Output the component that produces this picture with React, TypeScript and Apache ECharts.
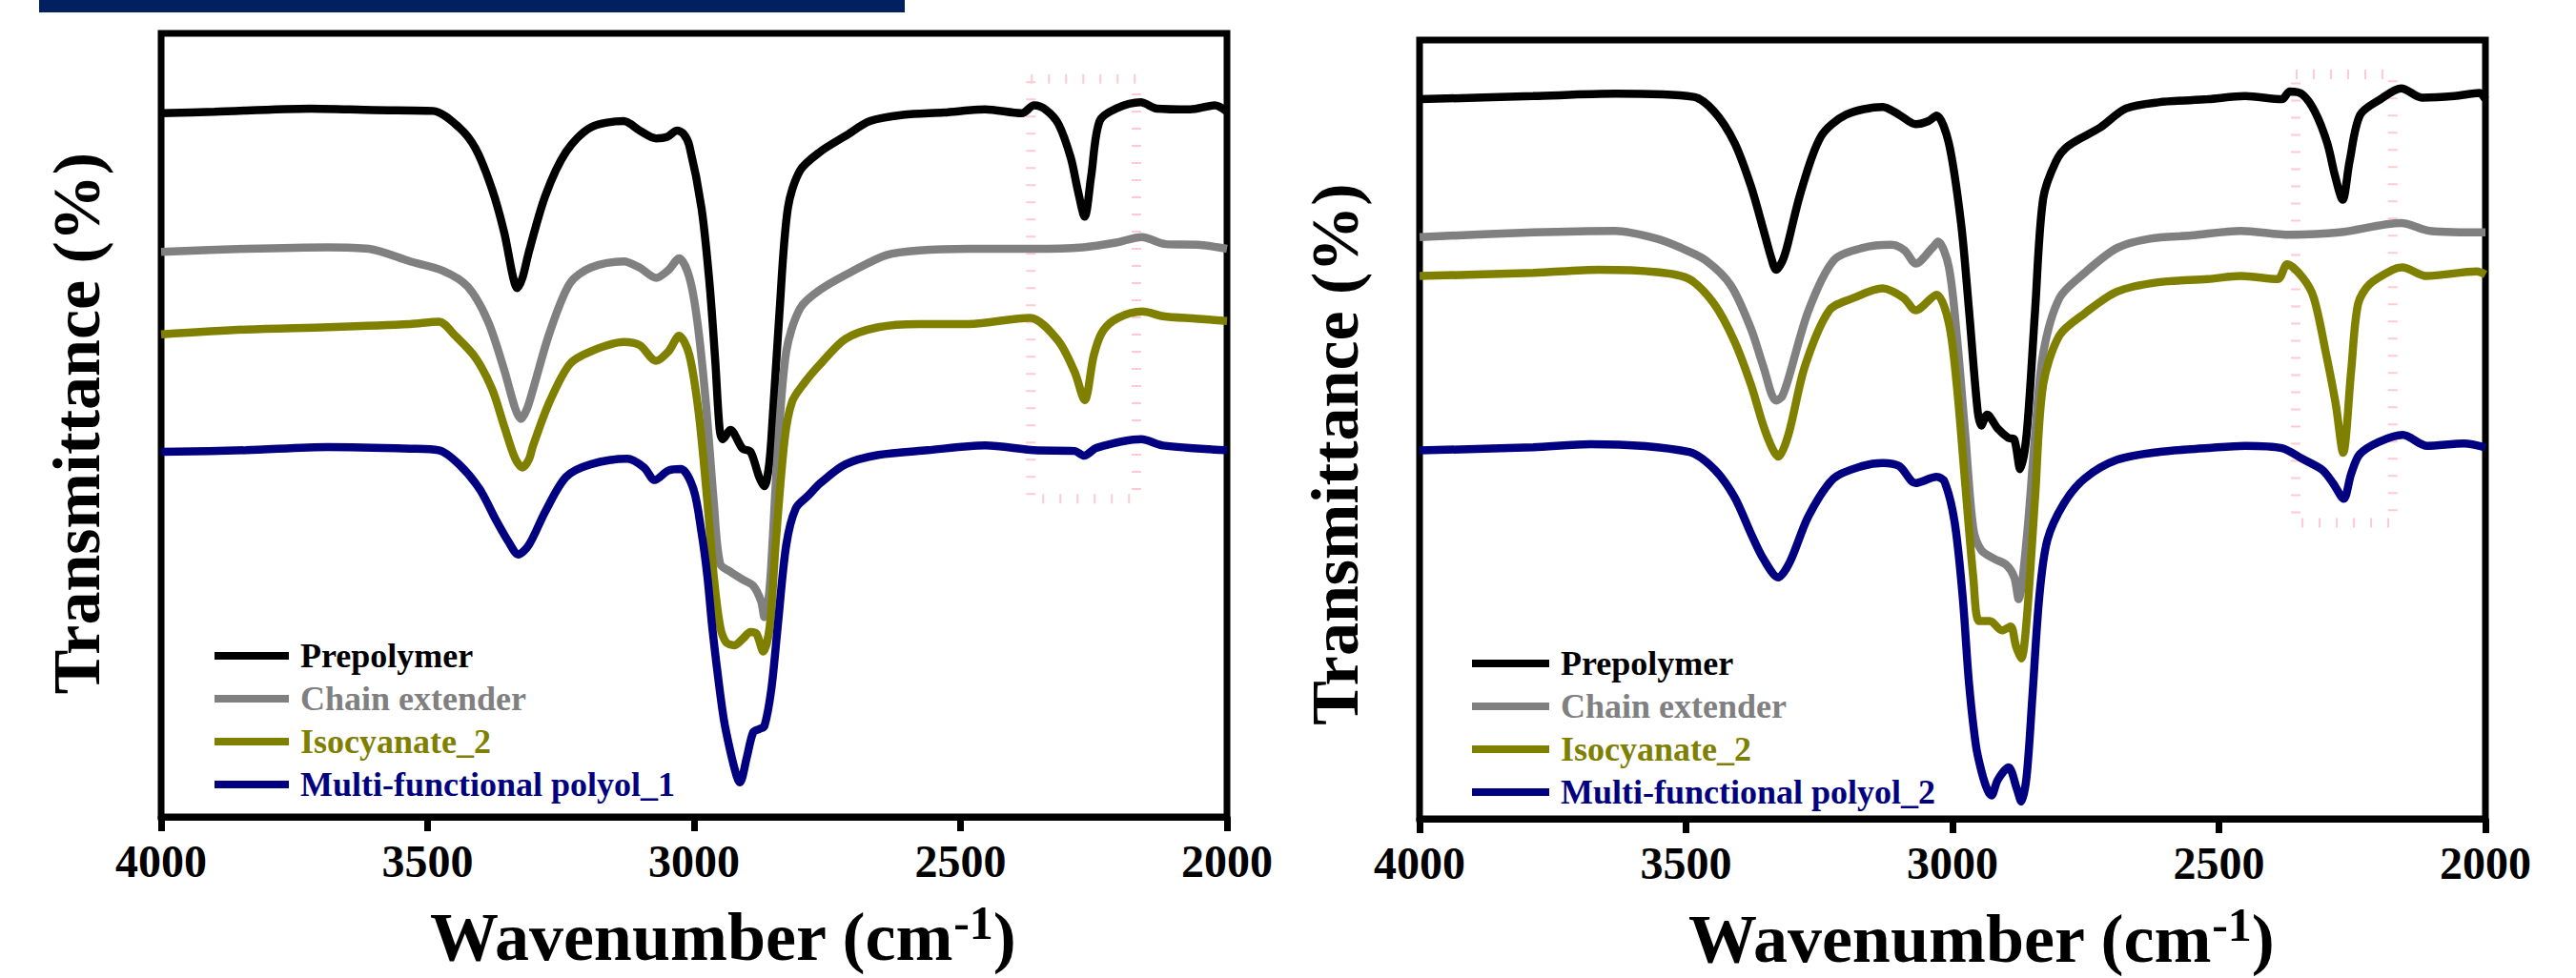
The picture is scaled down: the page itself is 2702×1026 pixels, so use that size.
import React, { useEffect, useRef } from "react";
import * as echarts from "echarts";

// ---------- Data (wavenumber cm-1, relative transmittance 0..100) ----------
const xTickMin = 2000;
const xTickMax = 4000;
const xTickStep = 500;

const names1 = ["Prepolymer", "Chain extender", "Isocyanate_2", "Multi-functional polyol_1"];
const names2 = ["Prepolymer", "Chain extender", "Isocyanate_2", "Multi-functional polyol_2"];
const colors = ["#000000", "#808080", "#808000", "#000080"];

const L_pre = [
  [4000, 89.8], [3900, 90.0], [3720, 90.4], [3600, 90.2], [3490, 90.1], [3441, 88.0], [3410, 85.3],
  [3379, 80.1], [3356, 74.5], [3340, 69.0], [3332, 67.5], [3322, 68.8], [3310, 72.1], [3279, 79.3],
  [3240, 84.9], [3194, 88.0], [3132, 88.8], [3102, 87.6], [3071, 86.6], [3050, 86.8], [3032, 87.6],
  [3020, 87.2], [3009, 85.7], [2986, 77.7], [2971, 68.1], [2960, 58.0], [2952, 49.5], [2946, 48.2],
  [2932, 49.4], [2909, 47.0], [2894, 46.6], [2878, 43.4], [2868, 42.2], [2860, 44.5], [2855, 48.2],
  [2840, 64.1], [2824, 77.7], [2801, 82.5], [2763, 84.9], [2716, 86.9], [2670, 88.8], [2608, 89.6],
  [2531, 89.9], [2454, 90.3], [2385, 89.8], [2362, 90.8], [2339, 90.2], [2316, 88.4], [2293, 84.1],
  [2280, 80.0], [2267, 76.6], [2255, 81.7], [2239, 88.8], [2208, 90.4], [2162, 91.2], [2131, 90.4],
  [2069, 90.3], [2023, 90.8], [2000, 90.0],
];
const L_ce = [
  [4000, 72.1], [3841, 72.5], [3687, 72.7], [3610, 72.5], [3533, 70.9], [3471, 69.7], [3425, 67.7],
  [3387, 63.3], [3356, 57.0], [3336, 52.2], [3325, 50.8], [3314, 52.0], [3302, 54.6], [3271, 61.8],
  [3233, 68.1], [3194, 70.1], [3132, 70.9], [3102, 70.1], [3071, 68.8], [3048, 69.8], [3028, 71.3],
  [3009, 68.9], [2994, 63.3], [2978, 53.0], [2963, 40.2], [2951, 32.3], [2932, 31.3], [2909, 30.3],
  [2889, 29.5], [2874, 27.5], [2868, 25.5], [2860, 28.0], [2855, 32.3], [2843, 46.6], [2827, 59.4],
  [2801, 64.9], [2763, 67.3], [2701, 69.7], [2639, 71.7], [2578, 72.3], [2485, 72.5], [2362, 72.5],
  [2270, 72.7], [2208, 73.3], [2160, 74.0], [2115, 73.1], [2050, 73.0], [2000, 72.5],
];
const L_iso = [
  [4000, 61.6], [3841, 62.2], [3687, 62.5], [3533, 62.9], [3479, 63.2], [3448, 61.4], [3410, 58.6],
  [3379, 54.6], [3356, 49.8], [3336, 45.8], [3322, 44.6], [3310, 45.6], [3302, 47.4], [3271, 53.0],
  [3233, 57.8], [3194, 59.4], [3132, 60.6], [3102, 60.2], [3071, 58.2], [3048, 59.4], [3028, 61.4],
  [3009, 59.0], [2991, 51.4], [2975, 40.2], [2963, 30.7], [2951, 24.3], [2940, 22.3], [2925, 21.9],
  [2909, 22.7], [2894, 23.6], [2883, 23.4], [2870, 21.1], [2858, 24.3], [2847, 34.7], [2830, 48.2],
  [2816, 53.0], [2793, 55.4], [2763, 57.8], [2716, 61.0], [2654, 62.5], [2578, 62.9], [2485, 62.9],
  [2370, 63.7], [2317, 60.8], [2286, 56.8], [2267, 53.2], [2250, 58.9], [2233, 62.0], [2204, 63.7],
  [2159, 64.5], [2120, 63.9], [2060, 63.6], [2000, 63.3],
];
const L_poly = [
  [4000, 46.6], [3841, 46.8], [3687, 47.2], [3533, 47.0], [3479, 46.8], [3441, 45.0], [3402, 41.8],
  [3371, 37.8], [3348, 35.1], [3330, 33.5], [3310, 34.7], [3279, 39.0], [3240, 43.4], [3194, 45.0],
  [3125, 45.7], [3094, 44.6], [3074, 43.0], [3048, 44.2], [3025, 44.4], [3001, 41.8], [2986, 36.3],
  [2975, 30.7], [2966, 24.3], [2955, 17.9], [2944, 12.4], [2932, 8.4], [2920, 5.2], [2914, 4.4],
  [2901, 7.6], [2889, 10.8], [2878, 11.2], [2868, 11.6], [2855, 16.3], [2843, 24.3], [2827, 34.7],
  [2809, 39.4], [2786, 41.0], [2763, 42.6], [2716, 45.0], [2654, 46.2], [2562, 46.8], [2454, 47.4],
  [2362, 46.8], [2286, 46.7], [2268, 46.1], [2245, 47.1], [2161, 48.2], [2120, 47.4], [2000, 46.8],
];

const R_pre = [
  [4000, 92.4], [3787, 92.8], [3633, 93.1], [3486, 92.7], [3447, 90.8], [3409, 86.8], [3378, 81.2],
  [3355, 75.7], [3340, 72.0], [3331, 70.5], [3320, 71.5], [3311, 73.3], [3285, 80.4], [3247, 87.6],
  [3200, 90.4], [3131, 91.4], [3100, 90.4], [3069, 89.2], [3045, 89.6], [3030, 90.3], [3007, 86.8],
  [2984, 76.5], [2969, 65.3], [2953, 52.5], [2946, 50.5], [2935, 51.9], [2915, 50.1], [2895, 48.9],
  [2884, 48.7], [2873, 44.9], [2861, 49.3], [2845, 65.3], [2830, 79.6], [2806, 84.4], [2783, 86.4],
  [2722, 88.8], [2675, 91.2], [2614, 92.0], [2521, 92.4], [2451, 92.8], [2382, 92.4], [2367, 93.4],
  [2343, 93.0], [2320, 90.8], [2297, 86.8], [2282, 82.5], [2268, 79.5], [2255, 84.4], [2235, 90.4],
  [2197, 92.4], [2158, 93.8], [2119, 92.6], [2058, 92.8], [2011, 93.2], [2000, 92.4],
];
const R_ce = [
  [4000, 74.7], [3787, 75.3], [3633, 75.5], [3555, 74.5], [3509, 73.3], [3463, 71.7], [3416, 68.5],
  [3378, 62.9], [3355, 58.1], [3331, 53.7], [3320, 54.2], [3308, 56.5], [3270, 65.3], [3223, 71.7],
  [3169, 73.3], [3115, 73.7], [3090, 73.0], [3069, 71.3], [3038, 73.3], [3027, 74.1], [3007, 70.9],
  [2992, 62.1], [2976, 49.3], [2961, 37.3], [2946, 34.5], [2922, 33.4], [2899, 32.6], [2884, 31.0],
  [2876, 28.2], [2861, 35.8], [2845, 49.3], [2830, 59.7], [2799, 66.9], [2752, 70.1], [2691, 73.3],
  [2629, 74.5], [2552, 74.9], [2459, 75.5], [2367, 75.0], [2274, 75.3], [2158, 76.5], [2104, 75.5],
  [2000, 75.3],
];
const R_iso = [
  [4000, 69.7], [3787, 70.1], [3663, 70.5], [3555, 70.2], [3494, 69.3], [3447, 66.1], [3409, 61.3],
  [3378, 55.7], [3355, 50.5], [3339, 47.7], [3327, 46.5], [3308, 49.3], [3277, 58.1], [3231, 65.3],
  [3185, 66.9], [3131, 68.1], [3092, 66.9], [3069, 65.3], [3030, 67.3], [3007, 63.7], [2992, 55.7],
  [2976, 42.9], [2961, 31.0], [2950, 25.4], [2930, 25.4], [2907, 24.2], [2891, 24.7], [2881, 22.2],
  [2871, 20.6], [2861, 25.4], [2845, 41.3], [2830, 55.7], [2799, 62.1], [2752, 64.9], [2691, 67.7],
  [2614, 68.9], [2521, 69.3], [2459, 69.7], [2390, 69.3], [2372, 71.2], [2343, 69.5], [2322, 66.9],
  [2299, 59.7], [2281, 53.3], [2267, 47.0], [2252, 57.5], [2239, 66.1], [2218, 68.6], [2174, 70.5],
  [2156, 70.8], [2111, 69.7], [2016, 70.3], [2000, 69.9],
];
const R_poly = [
  [4000, 47.3], [3787, 47.7], [3679, 48.1], [3494, 47.1], [3447, 44.9], [3409, 41.3], [3378, 36.6],
  [3355, 33.4], [3327, 31.0], [3305, 33.0], [3270, 38.9], [3223, 43.7], [3169, 45.3], [3131, 45.7],
  [3100, 45.3], [3069, 43.1], [3030, 43.9], [3015, 43.3], [2996, 38.1], [2981, 28.6], [2969, 17.4],
  [2956, 9.4], [2946, 6.2], [2935, 3.8], [2927, 3.0], [2915, 5.0], [2895, 6.6], [2879, 3.8],
  [2871, 2.2], [2861, 5.4], [2850, 15.8], [2837, 28.6], [2822, 35.8], [2791, 40.5], [2752, 43.7],
  [2691, 46.1], [2614, 47.1], [2521, 47.6], [2451, 47.9], [2382, 47.6], [2343, 46.2], [2306, 44.8],
  [2286, 43.1], [2266, 41.1], [2252, 44.3], [2236, 46.8], [2200, 48.4], [2155, 49.3], [2110, 47.9],
  [2040, 48.2], [2000, 47.7],
];

// faint highlight boxes around the NCO band [x1, x2, y1, y2]
const box1 = [2368, 2170, 94.2, 40.6];
const box2 = [2356, 2174, 95.6, 38.0];

const FONT = "Liberation Serif, 'Times New Roman', serif";

function buildOption() {
  const grids = [
    { left: 169, top: 35, width: 1118, height: 822 },
    { left: 1489, top: 42, width: 1118, height: 822 },
  ].map((g) => ({ ...g, show: true, borderColor: "#000", borderWidth: 7, backgroundColor: "transparent" }));

  const xAxis = [0, 1].map((i) => ({
    type: "value",
    gridIndex: i,
    min: xTickMin,
    max: xTickMax,
    interval: xTickStep,
    inverse: true,
    axisLine: { show: true, lineStyle: { color: "#000", width: 7 } },
    axisTick: { show: true, inside: false, length: 15, lineStyle: { color: "#000", width: 7 } },
    splitLine: { show: false },
    axisLabel: {
      color: "#000",
      fontSize: 48,
      fontWeight: "bold",
      fontFamily: FONT,
      margin: 22,
      formatter: (v: number) => String(v),
    },
    name: "{a|Wavenumber (cm}{b|-1}{a|)}",
    nameLocation: "middle",
    nameGap: 86,
    nameTextStyle: {
      padding: [0, 0, 0, 60],
      rich: {
        a: { fontSize: 72, fontWeight: "bold", fontFamily: FONT, color: "#000", lineHeight: 80 },
        b: { fontSize: 50, fontWeight: "bold", fontFamily: FONT, color: "#000", lineHeight: 30, verticalAlign: "top" },
      },
    },
  }));

  const yAxis = [0, 1].map((i) => ({
    type: "value",
    gridIndex: i,
    min: 0,
    max: 100,
    axisLine: { show: false },
    axisTick: { show: false },
    axisLabel: { show: false },
    splitLine: { show: false },
    name: "Transmittance (%)",
    nameLocation: "middle",
    nameRotate: 90,
    nameGap: 54,
    nameTextStyle: {
      fontSize: 70,
      fontWeight: "bold",
      fontFamily: FONT,
      color: "#000",
      padding: i === 0 ? [0, 0, 0, 4] : [0, 52, 0, 0],
    },
  }));

  const sets = [
    { names: names1, data: [L_pre, L_ce, L_iso, L_poly], box: box1 },
    { names: names2, data: [R_pre, R_ce, R_iso, R_poly], box: box2 },
  ];

  const series: any[] = [];
  sets.forEach((set, gi) => {
    set.data.forEach((d, si) => {
      const s: any = {
        type: "line",
        name: set.names[si],
        xAxisIndex: gi,
        yAxisIndex: gi,
        data: d,
        showSymbol: false,
        symbol: "none",
        smooth: 0.3,
        lineStyle: { color: colors[si], width: 8.5 },
        itemStyle: { color: colors[si] },
        z: 2 + si,
      };
      if (si === 0) {
        s.markArea = {
          silent: true,
          z: 1,
          label: { show: false },
          itemStyle: {
            color: "rgba(0,0,0,0)",
            borderColor: "rgba(255,150,165,0.5)",
            borderWidth: 10,
            borderType: [2, 16],
          },
          data: [[{ xAxis: set.box[0], yAxis: set.box[2] }, { xAxis: set.box[1], yAxis: set.box[3] }]],
        };
      }
      series.push(s);
    });
  });

  const legends = [
    { names: names1, left: 220, top: 663, w: 78 },
    { names: names2, left: 1539, top: 671, w: 81 },
  ].map((l) => ({
    orient: "vertical",
    left: l.left,
    top: l.top,
    icon: "rect",
    itemWidth: l.w,
    itemHeight: 8,
    itemGap: 5,
    selectedMode: false,
    textStyle: { fontSize: 36, fontWeight: "bold", fontFamily: FONT, lineHeight: 40, padding: [0, 0, 0, 7] },
    data: l.names.map((n, i) => ({ name: n, textStyle: { color: colors[i] } })),
  }));

  return {
    animation: false,
    backgroundColor: "#fff",
    grid: grids,
    xAxis,
    yAxis,
    legend: legends,
    series,
    graphic: [
      { type: "rect", shape: { x: 41, y: 0, width: 908, height: 13 }, style: { fill: "#002060" }, z: 10 },
    ],
  };
}

export default function App() {
  const ref = useRef<HTMLDivElement>(null);
  useEffect(() => {
    if (!ref.current) return;
    const chart = echarts.init(ref.current, null, { renderer: "svg" });
    chart.setOption(buildOption() as any);
    return () => chart.dispose();
  }, []);
  return (
    <div
      ref={ref}
      style={{ position: "absolute", left: 0, top: 0, width: 2702, height: 1026, background: "#fff" }}
    />
  );
}
